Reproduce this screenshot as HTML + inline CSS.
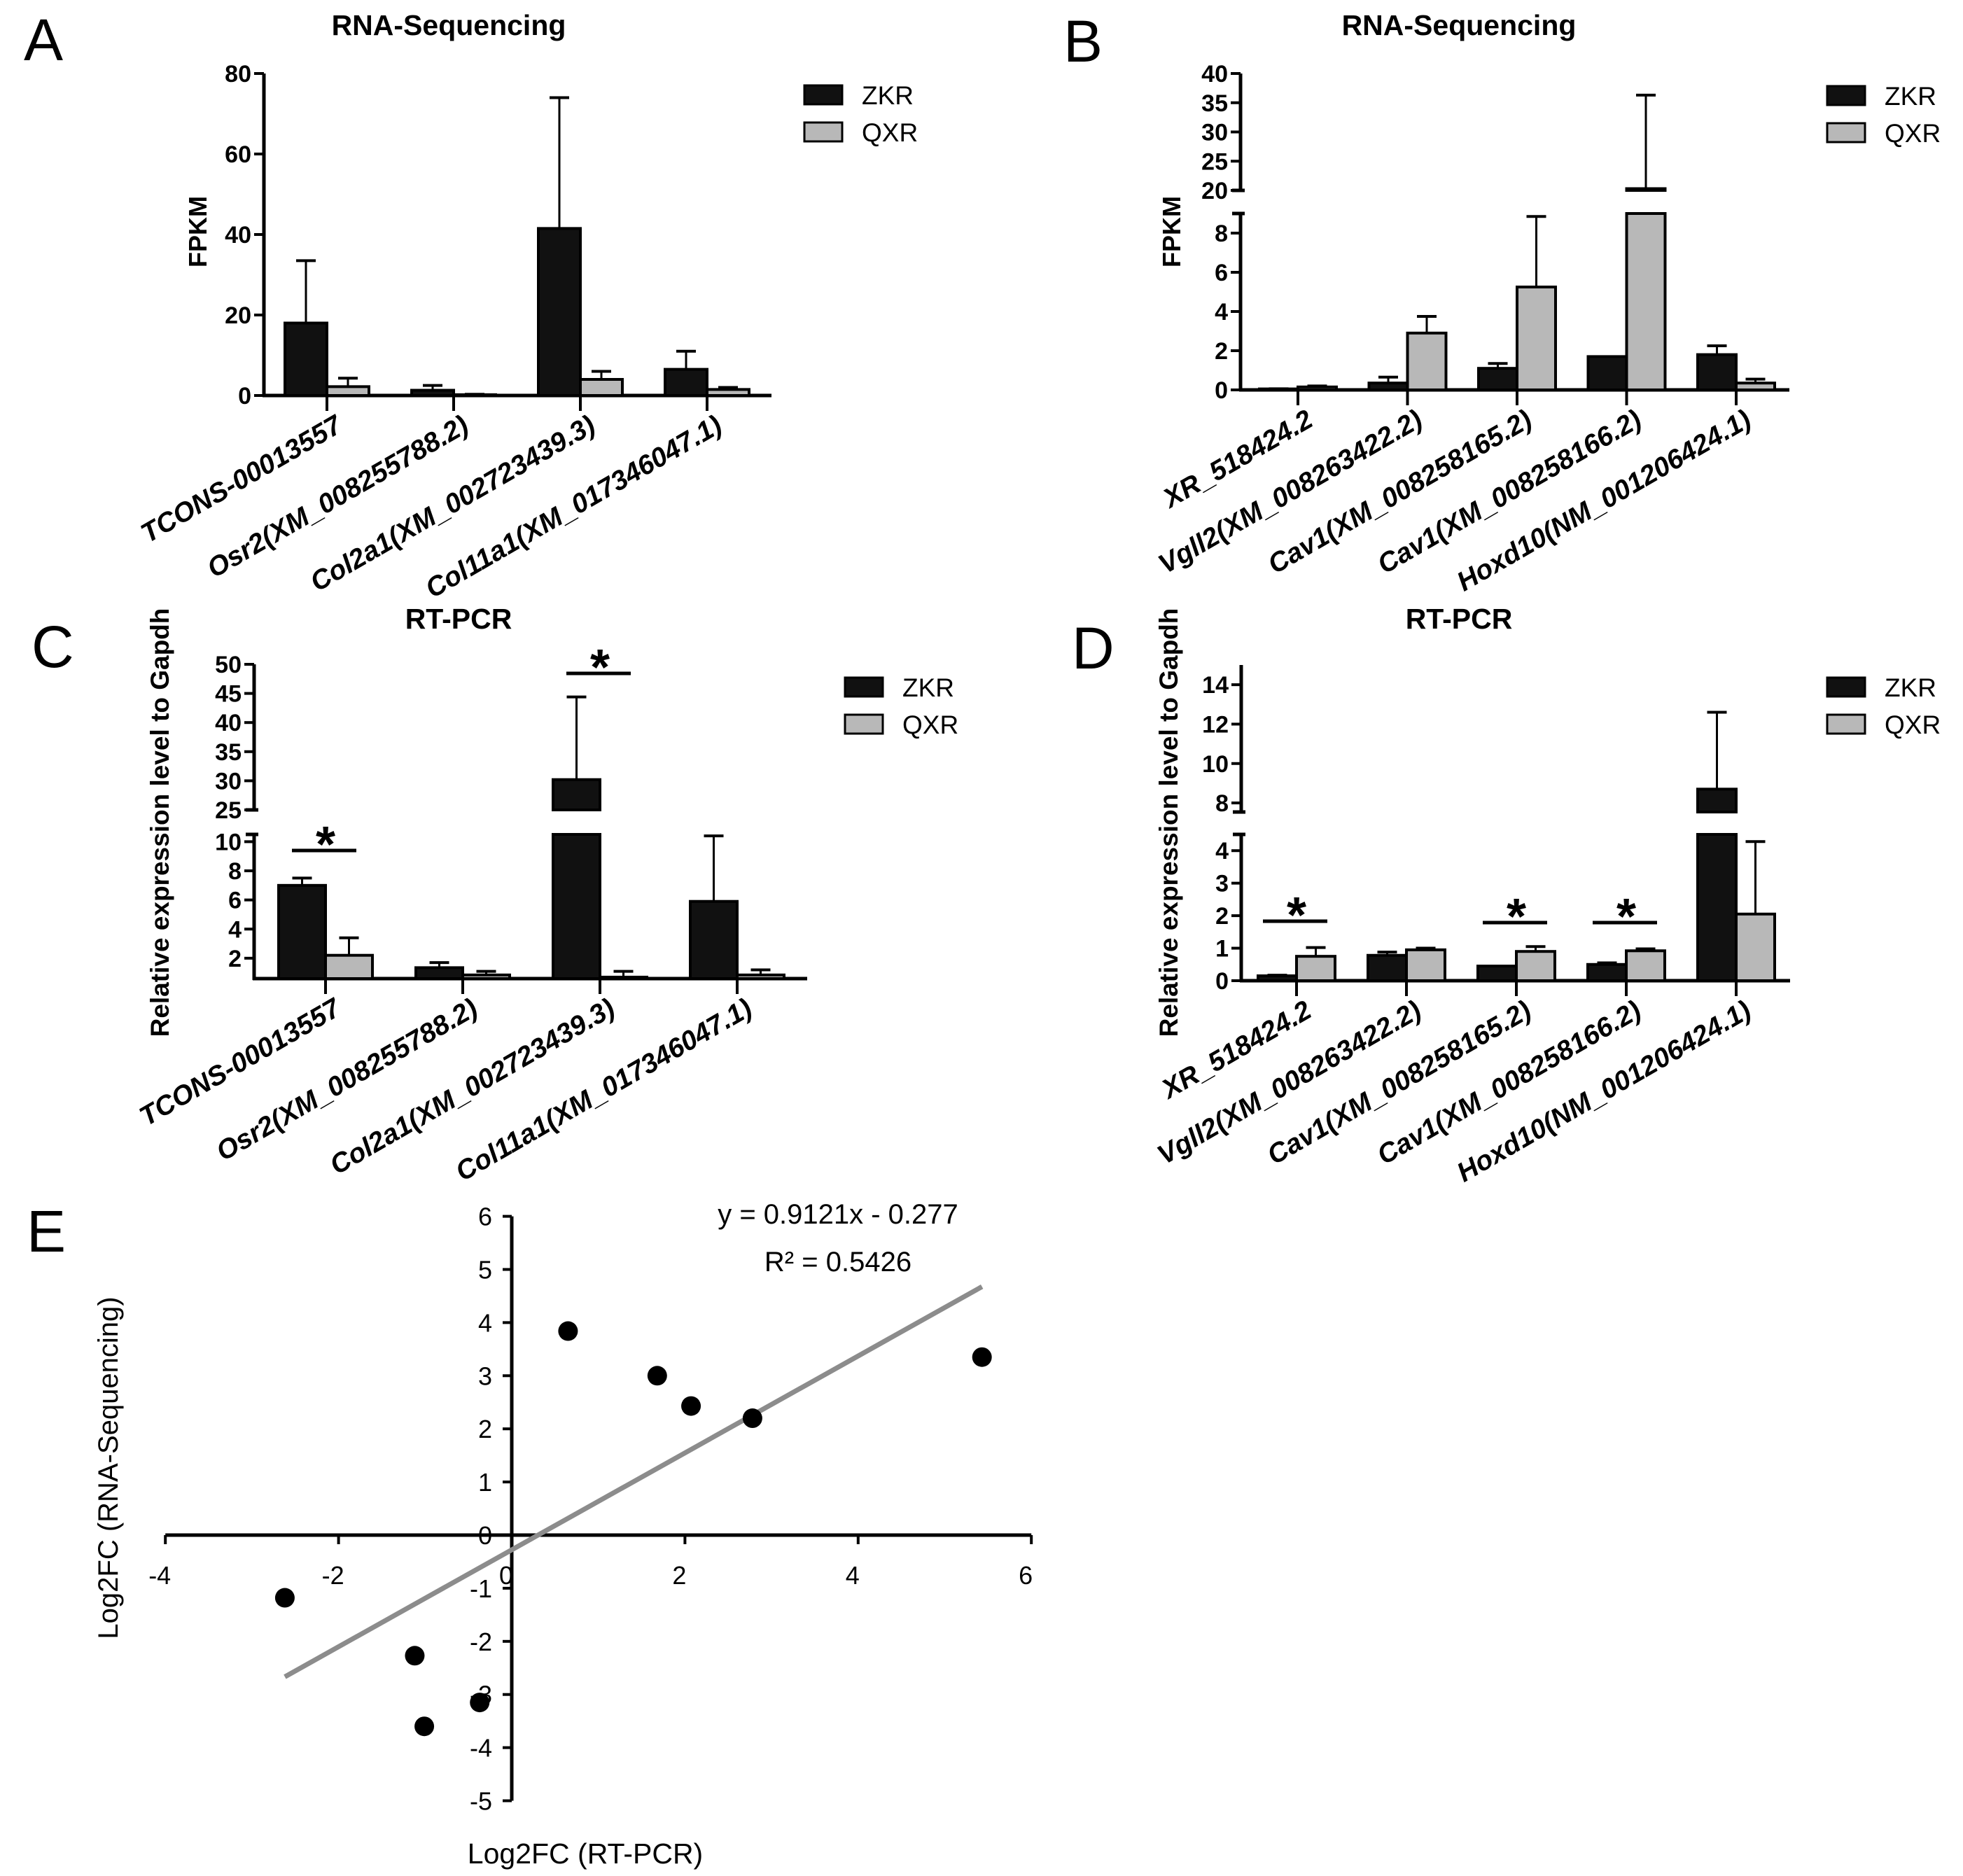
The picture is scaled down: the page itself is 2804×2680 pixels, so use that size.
<!DOCTYPE html>
<html><head><meta charset="utf-8"><style>
html,body{margin:0;padding:0;background:#fff;}
svg{display:block;font-family:"Liberation Sans",Arial,sans-serif;}
</style></head><body>
<svg id="fig" width="2804" height="2680" viewBox="0 0 2804 2680" xmlns="http://www.w3.org/2000/svg">
<rect width="2804" height="2680" fill="#fff"/>
<g id="root"></g>
</svg>
<script>
// ---------- Data ----------
const catsA = ["TCONS-00013557","Osr2(XM_008255788.2)","Col2a1(XM_002723439.3)","Col11a1(XM_017346047.1)"];
const zkrA = [18, 1.3, 41.5, 6.5];
const zkrErrA = [33.5, 2.5, 74, 11];
const qxrA = [2.2, 0.2, 4, 1.5];
const qxrErrA = [4.3, 0.3, 6, 2];
const ticksA = [0, 20, 40, 60, 80];

const catsB = ["XR_518424.2","Vgll2(XM_008263422.2)","Cav1(XM_008258165.2)","Cav1(XM_008258166.2)","Hoxd10(NM_001206424.1)"];
const zkrB = [0.05, 0.35, 1.1, 1.7, 1.8];
const zkrErrB = [0.06, 0.65, 1.35, null, 2.25];
const qxrB = [0.15, 2.9, 5.25, 20.3, 0.35];
const qxrErrB = [0.2, 3.75, 8.85, 36.3, 0.55];
const ticksB = [0, 2, 4, 6, 8, 20, 25, 30, 35, 40];

const catsC = catsA;
const zkrC = [7.0, 1.35, 30.2, 5.9];
const zkrErrC = [7.5, 1.7, 44.4, 10.4];
const qxrC = [2.2, 0.85, 0.7, 0.85];
const qxrErrC = [3.4, 1.1, 1.1, 1.2];
const ticksC = [2, 4, 6, 8, 10, 25, 30, 35, 40, 45, 50];
const sigC = [0, 2];

const catsD = catsB;
const zkrD = [0.15, 0.78, 0.45, 0.5, 8.7];
const zkrErrD = [0.17, 0.88, null, 0.55, 12.6];
const qxrD = [0.75, 0.95, 0.9, 0.92, 2.05];
const qxrErrD = [1.02, 1.0, 1.05, 0.98, 4.28];
const ticksD = [0, 1, 2, 3, 4, 8, 10, 12, 14];
const sigD = [0, 2, 3];

const scatterX = [0.65, 1.68, 2.07, 2.78, 5.43, -2.62, -1.12, -0.37, -1.01];
const scatterY = [3.84, 3.0, 2.43, 2.2, 3.35, -1.18, -2.27, -3.15, -3.6];
const ticksEX = [-4, -2, 0, 2, 4, 6];
const ticksEY = [-5, -4, -3, -2, -1, 0, 1, 2, 3, 4, 5, 6];
const slope = 0.9121, intercept = -0.277;

// ---------- Helpers ----------
const NS = "http://www.w3.org/2000/svg";
const root = document.getElementById('root');
function mk(tag, attrs, parent) {
  const e = document.createElementNS(NS, tag);
  for (const k in attrs) e.setAttribute(k, attrs[k]);
  (parent || root).appendChild(e);
  return e;
}
function txt(s, attrs, parent) { const t = mk('text', attrs, parent); t.textContent = s; return t; }

function barChart(cfg, cats, zkr, zkrErr, qxr, qxrErr, ticks, sig) {
  const g = mk('g', {});
  
  
  const segs = cfg.segs;
  const ax = cfg.axisX, base = segs[0].y0;
  function segY(s, v) { return s.y0 - (v - s.min) * (s.y0 - s.y1) / (s.max - s.min); }
  segs.forEach((s, i) => {
    const l = mk('line', {x1: ax, x2: ax, y1: s.y0 + (i === 0 ? 2 : 0), y2: s.y1, stroke: '#000', 'stroke-width': 5}, g);
    
    
    if (segs.length > 1) {
      if (i > 0) mk('line', {x1: ax - 12, x2: ax + 6, y1: s.y0, y2: s.y0, stroke: '#000', 'stroke-width': 5}, g);
      if (i < segs.length - 1) mk('line', {x1: ax - 12, x2: ax + 6, y1: s.y1, y2: s.y1, stroke: '#000', 'stroke-width': 5}, g);
    }
  });
  ticks.forEach(t => {
    const s = segs.find(s => t >= s.min - 1e-9 && t <= s.max + 1e-9);
    if (!s) return;
    const y = segY(s, t);
    mk('line', {x1: ax - 14, x2: ax, y1: y, y2: y, stroke: '#000', 'stroke-width': 4}, g);
    const lab = txt(String(t), {x: ax - 18, y: y + 12, 'text-anchor': 'end', 'font-size': 34, 'font-weight': 'bold'}, g);
    
    
  });
  const xa = mk('line', {x1: ax - 2, x2: cfg.xEnd, y1: base, y2: base, stroke: '#000', 'stroke-width': 5}, g);
  
  
  function drawBar(cx, v, e, fill, nm) {
    segs.forEach((s, i) => {
      if (v <= s.min && i > 0) return;
      const top = Math.min(v, s.max), bot = s.min;
      if (top <= bot) return;
      const y1 = segY(s, top), y0 = segY(s, bot);
      const r = mk('rect', {x: cx, y: y1, width: cfg.bw, height: Math.max(0, y0 - y1), fill: fill, stroke: '#000', 'stroke-width': 4}, g);
      
      
    });
    if (e !== null && e !== undefined && e > v) {
      const mx = cx + cfg.bw / 2;
      segs.forEach(s => {
        const a = Math.max(v, s.min), b = Math.min(e, s.max);
        if (b <= a) return;
        mk('line', {x1: mx, x2: mx, y1: segY(s, a), y2: segY(s, b), stroke: '#000', 'stroke-width': 3}, g);
      });
      const se = segs.find(s => e >= s.min && e <= s.max);
      if (se) {
        const ye = segY(se, e);
        const cap = mk('line', {x1: mx - 14, x2: mx + 14, y1: ye, y2: ye, stroke: '#000', 'stroke-width': 4}, g);
        
        
      }
    }
  }
  cats.forEach((c, i) => {
    const tx = cfg.x0 + i * cfg.step;
    drawBar(tx - cfg.bw, zkr[i], zkrErr[i], '#111', 'bar-zkr');
    drawBar(tx, qxr[i], qxrErr[i], '#b8b8b8', 'bar-qxr');
    mk('line', {x1: tx, x2: tx, y1: base, y2: base + 22, stroke: '#000', 'stroke-width': 4}, g);
    const lab = txt(c, {x: 0, y: 0, 'text-anchor': 'end', 'font-size': 39, 'font-weight': 'bold', 'font-style': 'italic', transform: `translate(${tx + 24},${base + 50}) rotate(-30)`}, g);
    
    
  });
  (sig || []).forEach((i, k) => {
    const tx = cfg.x0 + i * cfg.step;
    const y = cfg.sigY[k];
    const l = mk('line', {x1: tx - 48, x2: tx + 44, y1: y, y2: y, stroke: '#000', 'stroke-width': 5}, g);
    
    
    const st = txt('*', {x: tx, y: y + 16, 'text-anchor': 'middle', 'font-size': 72, 'font-weight': 'bold'}, g);
    
    
  });
  const ti = txt(cfg.title, {x: cfg.titleX, y: cfg.titleY, 'text-anchor': 'middle', 'font-size': 41, 'font-weight': 'bold'}, g);
  
  
  const pl = txt(cfg.letter, {x: cfg.letterX, y: cfg.letterY, 'font-size': 84}, g);
  
  
  const yl = txt(cfg.ylabel, {x: 0, y: 0, 'text-anchor': 'middle', 'font-size': cfg.ylSize, 'font-weight': 'bold', transform: `translate(${cfg.ylX},${cfg.ylY}) rotate(-90)`}, g);
  
  
  [['ZKR', '#111'], ['QXR', '#b8b8b8']].forEach((d, k) => {
    const y = cfg.legY + k * 53;
    const r = mk('rect', {x: cfg.legX, y: y, width: 54, height: 27, fill: d[1], stroke: '#000', 'stroke-width': 3}, g);
    
    
    const t = txt(d[0], {x: cfg.legX + 82, y: y + 27, 'font-size': 37}, g);
    
    
  });
}

barChart({name: 'panel-a-chart', axisX: 377, xEnd: 1102, x0: 467, step: 181, bw: 60,
  segs: [{min: 0, max: 80, y0: 565, y1: 105}],
  title: 'RNA-Sequencing', titleX: 641, titleY: 50, letter: 'A', letterX: 34, letterY: 86,
  ylabel: 'FPKM', ylSize: 36, ylX: 295, ylY: 331, legX: 1149, legY: 122, sigY: []},
  catsA, zkrA, zkrErrA, qxrA, qxrErrA, ticksA, []);

barChart({name: 'panel-b-chart', axisX: 1772, xEnd: 2556, x0: 1854, step: 156.5, bw: 55,
  segs: [{min: 0, max: 9, y0: 557, y1: 305}, {min: 20, max: 40, y0: 272, y1: 105}],
  title: 'RNA-Sequencing', titleX: 2084, titleY: 50, letter: 'B', letterX: 1519, letterY: 88,
  ylabel: 'FPKM', ylSize: 36, ylX: 1686, ylY: 331, legX: 2610, legY: 123, sigY: []},
  catsB, zkrB, zkrErrB, qxrB, qxrErrB, ticksB, []);

barChart({name: 'panel-c-chart', axisX: 363, xEnd: 1153, x0: 465, step: 196, bw: 67,
  segs: [{min: 0.6, max: 10.5, y0: 1398, y1: 1192}, {min: 25, max: 50, y0: 1157, y1: 949}],
  title: 'RT-PCR', titleX: 655, titleY: 898, letter: 'C', letterX: 45, letterY: 953,
  ylabel: 'Relative expression level to Gapdh', ylSize: 37, ylX: 241, ylY: 1175, legX: 1207, legY: 968, sigY: [1215, 962]},
  catsC, zkrC, zkrErrC, qxrC, qxrErrC, ticksC, sigC);

barChart({name: 'panel-d-chart', axisX: 1773, xEnd: 2557, x0: 1852, step: 157, bw: 55,
  segs: [{min: 0, max: 4.5, y0: 1401, y1: 1192}, {min: 7.54, max: 15, y0: 1160, y1: 950}],
  title: 'RT-PCR', titleX: 2084, titleY: 898, letter: 'D', letterX: 1531, letterY: 955,
  ylabel: 'Relative expression level to Gapdh', ylSize: 37, ylX: 1682, ylY: 1175, legX: 2610, legY: 968, sigY: [1316, 1318, 1318]},
  catsD, zkrD, zkrErrD, qxrD, qxrErrD, ticksD, sigD);

// ---------- Panel E scatter ----------
(function () {
  const g = mk('g', {});
  
  
  const x0px = 731, xs = 123.7, y0px = 2193, ys = 75.9;
  const X = v => x0px + v * xs, Y = v => y0px - v * ys;
  const xa = mk('line', {x1: X(-4), x2: X(6), y1: Y(0), y2: Y(0), stroke: '#000', 'stroke-width': 5}, g);
  
  
  const ya = mk('line', {x1: X(0), x2: X(0), y1: Y(6), y2: Y(-5), stroke: '#000', 'stroke-width': 5}, g);
  
  
  ticksEX.forEach(t => {
    mk('line', {x1: X(t), x2: X(t), y1: Y(0), y2: Y(0) + 13, stroke: '#000', 'stroke-width': 4}, g);
    const l = txt(String(t), {x: X(t) - 8, y: Y(0) + 70, 'text-anchor': 'middle', 'font-size': 36}, g);
    
    
  });
  ticksEY.forEach(t => {
    mk('line', {x1: X(0) - 13, x2: X(0), y1: Y(t), y2: Y(t), stroke: '#000', 'stroke-width': 4}, g);
    const l = txt(String(t), {x: X(0) - 28, y: Y(t) + 13, 'text-anchor': 'end', 'font-size': 36}, g);
    
    
  });
  const xmin = Math.min(...scatterX), xmax = Math.max(...scatterX);
  const tl = mk('line', {x1: X(xmin), y1: Y(slope * xmin + intercept), x2: X(xmax), y2: Y(slope * xmax + intercept), stroke: '#8c8c8c', 'stroke-width': 7}, g);
  
  
  scatterX.forEach((x, i) => {
    const c = mk('circle', {cx: X(x), cy: Y(scatterY[i]), r: 14, fill: '#000'}, g);
    
    
  });
  const eq = txt('y = 0.9121x - 0.277', {x: 1197, y: 1748, 'text-anchor': 'middle', 'font-size': 40}, g);
  
  
  const r2 = txt('R² = 0.5426', {x: 1197, y: 1816, 'text-anchor': 'middle', 'font-size': 40}, g);
  
  
  const yt = txt('Log2FC (RNA-Sequencing)', {x: 0, y: 0, 'text-anchor': 'middle', 'font-size': 40, transform: 'translate(168,2097) rotate(-90)'}, g);
  
  
  const xt = txt('Log2FC (RT-PCR)', {x: 836, y: 2662, 'text-anchor': 'middle', 'font-size': 41}, g);
  
  
  const pl = txt('E', {x: 38, y: 1788, 'font-size': 84}, g);
  
  
})();
</script>
</body></html>
